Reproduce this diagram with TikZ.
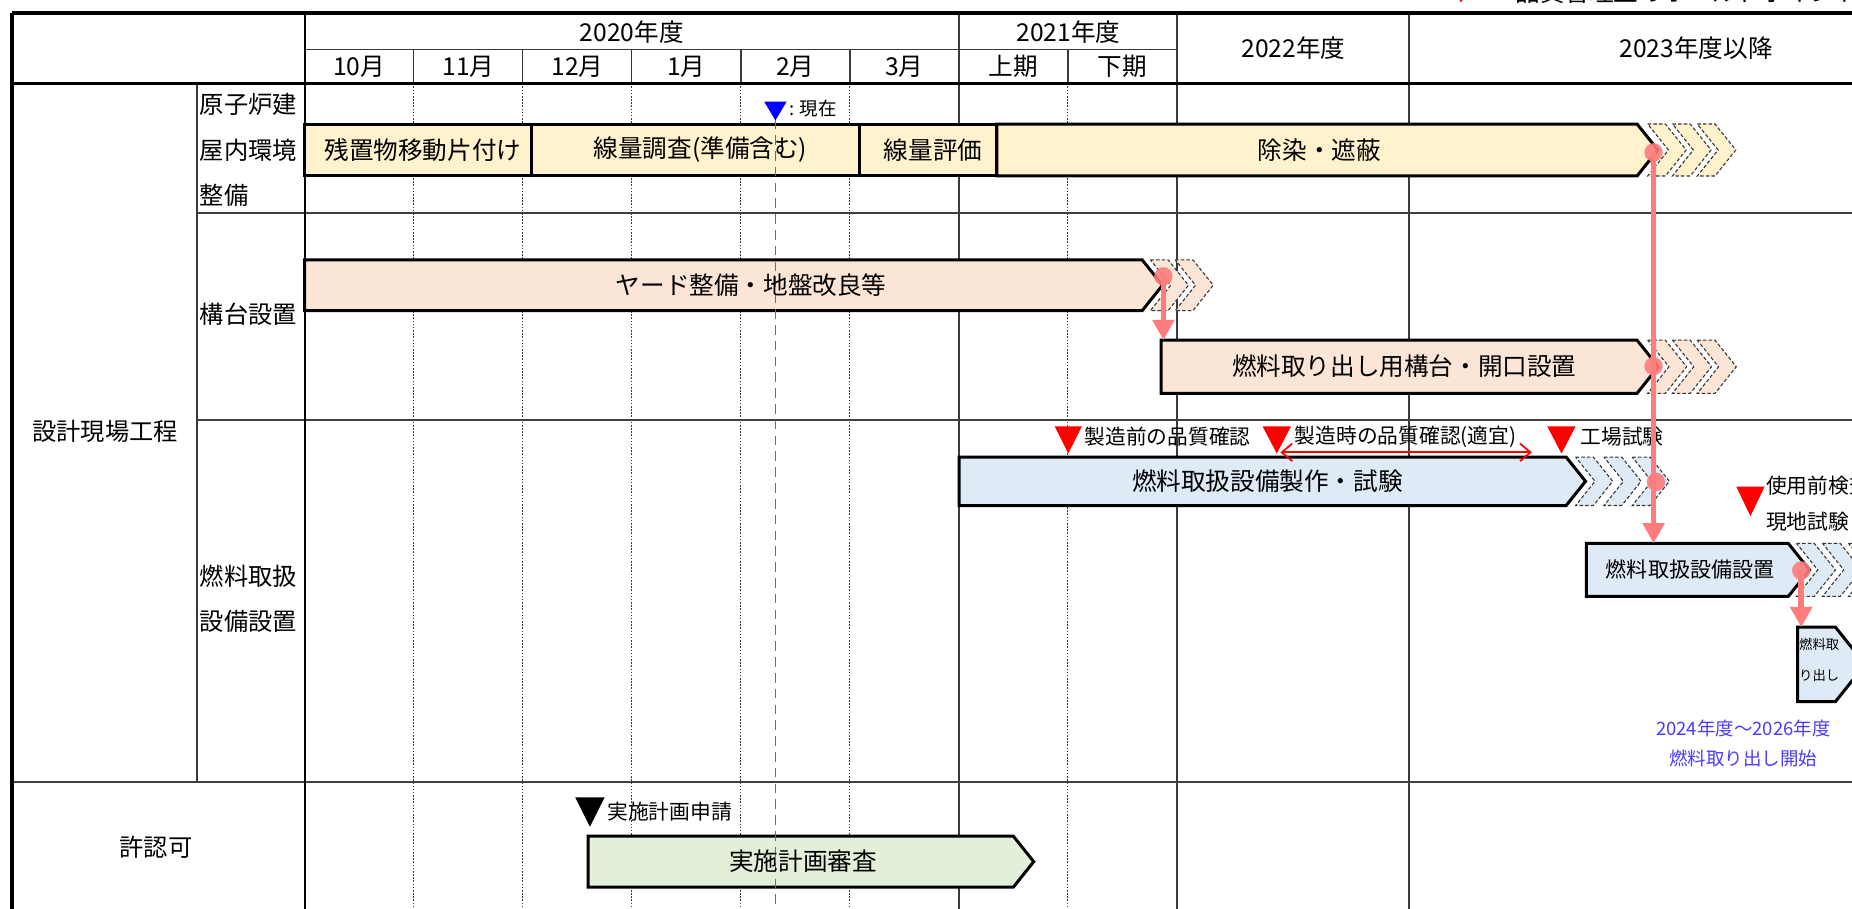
\documentclass[tikz,border=0pt]{standalone}
\usepackage{fontspec}
\setmainfont{Noto Sans CJK JP}
\usetikzlibrary{arrows.meta}
\definecolor{ylwfill}{HTML}{FFF2CC}
\definecolor{pchfill}{HTML}{FBE5D6}
\definecolor{bluefill}{HTML}{DEEBF7}
\definecolor{grnfill}{HTML}{E2F0D9}
\definecolor{connred}{HTML}{FF7C7C}
\definecolor{gridc}{HTML}{3A3A3A}
\definecolor{nowline}{HTML}{4472C4}
\definecolor{notecol}{HTML}{4B3BFF}
\newcommand\fs[1]{\fontsize{#1}{#1}\selectfont}
\newcommand\taskbar[6]{%
  \pgfmathsetmacro\tbm{(#5+#6)/2}%
  \pgfmathsetmacro\tbd{0.4*(#6-#5)}%
  \draw[barline,fill=#2] (#3,#5) -- (#4,#5) -- ({#4+\tbd},\tbm) -- (#4,#6) -- (#3,#6) -- cycle;%
  \coordinate (#1-tip) at ({#4+\tbd},\tbm);%
}
\newcommand\chevrons[6]{%
  \pgfmathsetmacro\chm{(#3+#4)/2}%
  \pgfmathsetmacro\chd{0.4*(#4-#3)}%
  \foreach \k in {1,...,#5}{%
    \pgfmathsetmacro\chx{#2+(\k-1)*#6}%
    \draw[chevline,fill=#1] (\chx,#3) -- ({\chx+15},#3) -- ({\chx+15+\chd},\chm) -- ({\chx+15},#4) -- (\chx,#4) -- ({\chx+\chd},\chm) -- cycle;%
  }}
\tikzset{
  gridsolid/.style={draw=gridc, line width=0.8pt},
  griddot/.style={draw=gridc, line width=0.45pt, dash pattern=on 0.9pt off 0.9pt},
  rowline/.style={draw=black!75, line width=1.2pt},
  barline/.style={draw=black, line width=1.7pt, line join=miter},
  chevline/.style={draw=black!80, line width=0.6pt, dash pattern=on 2pt off 1.2pt},
  hdr/.style={font=\fs{14}, inner sep=0pt},
  lbl/.style={font=\fs{13.8}, inner sep=0pt},
  bartxt/.style={font=\fs{14}, inner sep=0pt},
  mstxt/.style={font=\fs{11.8}, inner sep=0pt, anchor=west},
  conn/.style={draw=connred, line width=3.2pt, -{Triangle[width=12pt,length=11.5pt]}},
  cdot/.style={circle, fill=connred, inner sep=0pt, minimum size=10.5pt, opacity=0.9},
  msmark/.style={fill=red},
}
\begin{document}
\begin{tikzpicture}[x=0.023622cm, y=-0.023622cm]
\useasboundingbox (0,0) rectangle (1568,769);
\clip (0,0) rectangle (1568,769);
\fill[white] (0,0) rectangle (1568,769);

% ---------- grid ----------
\foreach \xx in {350.3,442.6,534.9,627.2,719.5,904.1}{
  \draw[griddot] (\xx,70.5) -- (\xx,800);
  \draw[gridsolid] (\xx,42) -- (\xx,70.5);
}
\foreach \xx in {811.8,996.4,1193}{
  \draw[gridsolid] (\xx,11) -- (\xx,800);
}
\draw[gridsolid] (258,42) -- (996.4,42);
\draw[gridsolid, line width=1pt] (167,70.5) -- (167,662);
\draw[rowline] (167,180.5) -- (1600,180.5);
\draw[rowline] (167,355.6) -- (1600,355.6);
\draw[rowline] (10,662) -- (1600,662);
\draw[line width=1.4pt] (258,11) -- (258,800);
\draw[line width=1.6pt] (10,70.5) -- (1600,70.5);
\draw[line width=2.3pt] (10,11) -- (1600,11);
\draw[line width=2.3pt] (10,11) -- (10,800);

% ---------- header ----------
\node[hdr] (y2020) at (535,27) {2020年度};
\node[hdr] (y2021) at (904.5,27) {2021年度};
\node[hdr] (y2022) at (1095,41) {2022年度};
\node[hdr] (y2023) at (1436,41) {2023年度以降};
\node[hdr] (m10) at (304.2,56.5) {10月};
\node[hdr] (m11) at (396.5,56.5) {11月};
\node[hdr] (m12) at (488.8,56.5) {12月};
\node[hdr] (m1) at (581.1,56.5) {1月};
\node[hdr] (m2) at (673.4,56.5) {2月};
\node[hdr] (m3) at (765.7,56.5) {3月};
\node[hdr] (h1) at (858,56.5) {上期};
\node[hdr] (h2) at (950.3,56.5) {下期};

% ---------- row labels ----------
\node[lbl, anchor=west] (la1) at (169,88) {原子炉建};
\node[lbl, anchor=west] (la2) at (169,127) {屋内環境};
\node[lbl, anchor=west] (la3) at (169,165) {整備};
\node[lbl, anchor=west] (lb) at (169,266) {構台設置};
\node[lbl, anchor=west] (lc1) at (169,488) {燃料取扱};
\node[lbl, anchor=west] (lc2) at (169,526) {設備設置};
\node[lbl] (lmain) at (89,365) {設計現場工程};
\node[lbl] (lkyo) at (132,717) {許認可};

% ---------- bars ----------
\draw[barline, fill=ylwfill] (258,105) rectangle (450,149);
\draw[barline, fill=ylwfill] (450,105) rectangle (728,149);
\draw[barline, fill=ylwfill] (728,105) rectangle (844,149);
\taskbar{josen}{ylwfill}{844}{1386}{105}{149}
\chevrons{ylwfill}{1395}{105}{149}{3}{21}

\taskbar{yard}{pchfill}{258}{967}{220}{263}
\chevrons{pchfill}{974}{220}{263}{2}{21}
\taskbar{kodai}{pchfill}{983}{1386}{288}{333}
\chevrons{pchfill}{1395}{288}{333}{3}{21}

\taskbar{seisaku}{bluefill}{812}{1326}{387}{428}
\chevrons{bluefill}{1334}{387}{428}{3}{24}
\taskbar{setchi}{bluefill}{1343}{1514}{460}{505}
\chevrons{bluefill}{1521}{460}{505}{3}{22}
\taskbar{tori}{bluefill}{1522}{1554}{531}{594}

\taskbar{shinsa}{grnfill}{498}{858}{708}{751}

% ---------- current line ----------
\draw[nowline, line width=0.9pt, dash pattern=on 5.5pt off 3.5pt] (656.5,101) -- (656.5,800);
\fill[blue] (647,86) -- (666,86) -- (656.5,102) -- cycle;
\node[font=\fs{10.5}, inner sep=0pt, anchor=west] (now) at (668,92) {: 現在};

% ---------- bar texts ----------
\node[bartxt] (t1) at (358,127) {残置物移動片付け};
\node[bartxt] (t2) at (593,127) {線量調査(準備含む)};
\node[bartxt] (t3) at (790,127) {線量評価};
\node[bartxt] (t4) at (1117,127) {除染・遮蔽};
\node[bartxt] (t5) at (636,241.5) {ヤード整備・地盤改良等};
\node[bartxt] (t6) at (1189,310) {燃料取り出し用構台・開口設置};
\node[bartxt] (t7) at (1073,407.5) {燃料取扱設備製作・試験};
\node[font=\fs{12}, inner sep=0pt] (t8) at (1431,482.5) {燃料取扱設備設置};
\node[font=\fs{7.6}, inner sep=0pt, anchor=north west, align=left] (t9) at (1523,540) {燃料取\\[10pt]り出し};
\node[bartxt] (t10) at (680,729) {実施計画審査};

% ---------- milestones ----------
\fill[msmark] (893,361) -- (916,361) -- (904.5,384) -- cycle;
\fill[msmark] (1069,361) -- (1093,361) -- (1081,384) -- cycle;
\fill[msmark] (1310,361) -- (1334,361) -- (1322,384) -- cycle;
\fill[msmark] (1470,412) -- (1494,412) -- (1482,437) -- cycle;
\fill[black] (487,675) -- (512,675) -- (499.5,700) -- cycle;
\node[mstxt] (ms1) at (918,370) {製造前の品質確認};
\node[mstxt] (ms2) at (1096,370) {製造時の品質確認(適宜)};
\node[mstxt] (ms3) at (1338,370) {工場試験};
\node[mstxt] (ms4) at (1495,411) {使用前検査};
\node[mstxt] (ms5) at (1495,442) {現地試験};
\node[mstxt] (ms6) at (514,687) {実施計画申請};
\coordinate (qa-from) at (1084,383);
\coordinate (qa-to) at (1297,383);
\draw[red, line width=1pt, {Straight Barb[length=6pt,width=10pt]}-{Straight Barb[length=6pt,width=10pt]}] (qa-from) -- (qa-to);

% ---------- note ----------
\node[font=\fs{10.5}, text=notecol, inner sep=0pt] (note1) at (1476,617) {2024年度～2026年度};
\node[font=\fs{10.5}, text=notecol, inner sep=0pt] (note2) at (1476,642) {燃料取り出し開始};

% ---------- legend (cut off at top) ----------
\fill[red] (1226,-14) -- (1248,-14) -- (1237,2) -- cycle;
\node[font=\fs{14}, inner sep=0pt, anchor=base west] (legend) at (1262,1) {：品質管理上のホールドポイント};

% ---------- connectors ----------
\coordinate (kodai-top) at (985,288);
\coordinate (setchi-top) at (1400,460);
\coordinate (tori-top) at (1525,531);
\node[cdot] (c-josen) at (1400,129) {};
\node[cdot] (c-kodai) at (1400,310) {};
\node[cdot] (c-seisaku) at (1402,408) {};
\node[cdot] (c-yard) at (985,234) {};
\node[cdot] (c-setchi) at (1525,483) {};
\draw[conn] (c-josen.center) -- (setchi-top);
\draw[conn] (c-yard.center) -- (kodai-top);
\draw[conn] (c-setchi.center) -- (tori-top);
\end{tikzpicture}
\end{document}
